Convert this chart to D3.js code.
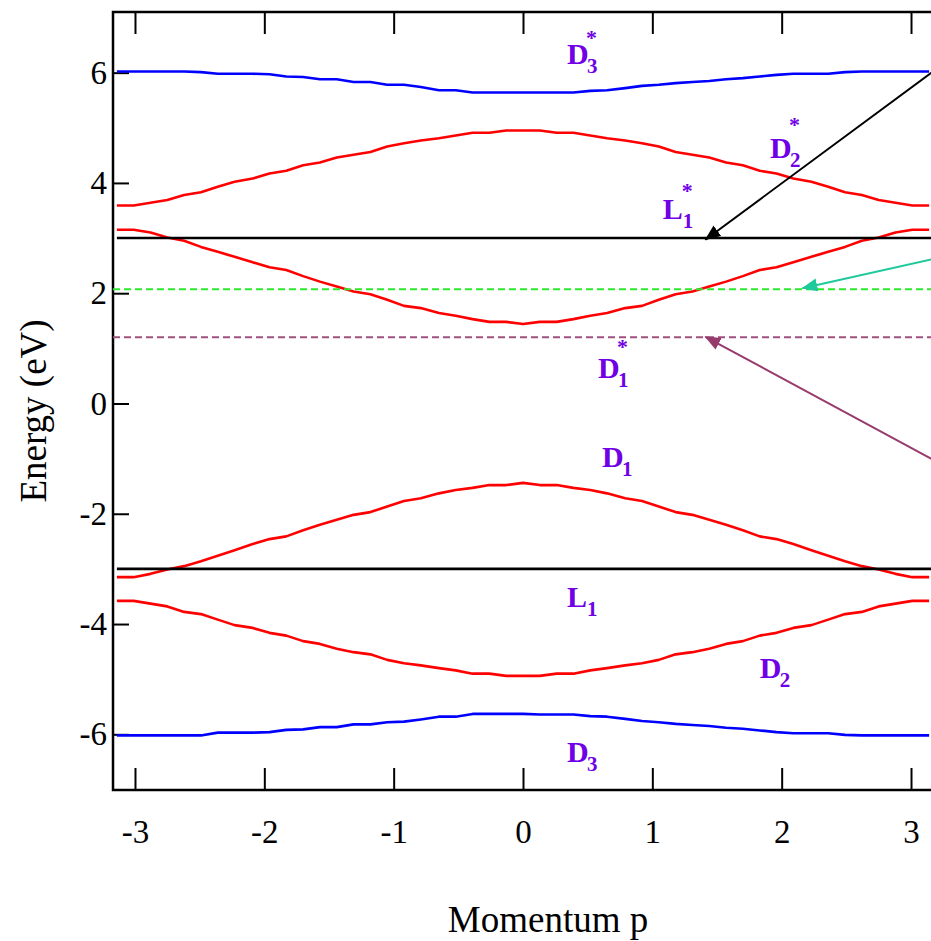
<!DOCTYPE html>
<html>
<head>
<meta charset="utf-8">
<script src="https://cdn.jsdelivr.net/npm/d3@7"></script>
<style>
  body { margin: 0; background: #fff; }
</style>
</head>
<body>
<div id="chart"></div>
<script>
// momentum grid (-pi .. pi)
const momentum = [-3.14, -3.01, -2.88, -2.75, -2.62, -2.49, -2.36, -2.23, -2.09, -1.96, -1.83, -1.70, -1.57, -1.44, -1.31, -1.18, -1.05, -0.92, -0.79, -0.65, -0.52, -0.39, -0.26, -0.13,
  0, 0.13, 0.26, 0.39, 0.52, 0.65, 0.79, 0.92, 1.05, 1.18, 1.31, 1.44, 1.57, 1.70, 1.83, 1.96, 2.09, 2.23, 2.36, 2.49, 2.62, 2.75, 2.88, 3.01, 3.14];

// bands
const bandD3s = [6.02, 6.02, 6.02, 6.02, 6.02, 6.01, 5.98, 5.98, 5.98, 5.97, 5.93, 5.92, 5.88, 5.88, 5.83, 5.83, 5.78, 5.78, 5.74, 5.68, 5.68, 5.64, 5.64, 5.64,
  5.64, 5.64, 5.64, 5.64, 5.67, 5.68, 5.72, 5.76, 5.78, 5.81, 5.83, 5.85, 5.88, 5.90, 5.93, 5.96, 5.98, 5.98, 5.98, 6.01, 6.02, 6.02, 6.02, 6.02, 6.02];
const bandD2s = [3.59, 3.59, 3.64, 3.69, 3.78, 3.83, 3.93, 4.02, 4.08, 4.17, 4.22, 4.32, 4.37, 4.46, 4.51, 4.56, 4.66, 4.72, 4.77, 4.81, 4.86, 4.91, 4.91, 4.95,
  4.95, 4.95, 4.91, 4.91, 4.86, 4.81, 4.77, 4.72, 4.66, 4.56, 4.51, 4.46, 4.37, 4.32, 4.22, 4.17, 4.08, 4.02, 3.93, 3.83, 3.78, 3.69, 3.64, 3.59, 3.59];
const bandD1s = [3.15, 3.15, 3.10, 3.01, 2.95, 2.84, 2.75, 2.66, 2.56, 2.47, 2.42, 2.31, 2.21, 2.12, 2.03, 1.98, 1.88, 1.77, 1.73, 1.64, 1.59, 1.53, 1.48, 1.48,
  1.44, 1.48, 1.48, 1.53, 1.59, 1.64, 1.73, 1.77, 1.88, 1.98, 2.03, 2.12, 2.21, 2.31, 2.42, 2.47, 2.56, 2.66, 2.75, 2.84, 2.95, 3.01, 3.10, 3.15, 3.15];
const bandD1 = [-3.15, -3.15, -3.09, -3.01, -2.95, -2.86, -2.76, -2.66, -2.55, -2.46, -2.41, -2.30, -2.20, -2.11, -2.02, -1.97, -1.87, -1.77, -1.72, -1.63, -1.57, -1.53, -1.48, -1.48,
  -1.44, -1.48, -1.48, -1.53, -1.57, -1.63, -1.72, -1.77, -1.87, -1.97, -2.02, -2.11, -2.20, -2.30, -2.41, -2.46, -2.55, -2.66, -2.76, -2.86, -2.95, -3.01, -3.09, -3.15, -3.15];
const bandD2 = [-3.58, -3.58, -3.63, -3.68, -3.78, -3.82, -3.92, -4.02, -4.07, -4.16, -4.21, -4.31, -4.36, -4.45, -4.51, -4.55, -4.65, -4.71, -4.75, -4.80, -4.84, -4.90, -4.90, -4.94,
  -4.94, -4.94, -4.90, -4.90, -4.84, -4.80, -4.75, -4.71, -4.65, -4.55, -4.51, -4.45, -4.36, -4.31, -4.21, -4.16, -4.07, -4.02, -3.92, -3.82, -3.78, -3.68, -3.63, -3.58, -3.58];
const bandD3 = [-6.02, -6.02, -6.02, -6.02, -6.02, -6.02, -5.97, -5.97, -5.97, -5.96, -5.92, -5.91, -5.87, -5.87, -5.82, -5.82, -5.78, -5.77, -5.73, -5.68, -5.68, -5.63, -5.63, -5.63,
  -5.63, -5.64, -5.64, -5.64, -5.67, -5.68, -5.72, -5.76, -5.78, -5.81, -5.83, -5.85, -5.88, -5.90, -5.93, -5.96, -5.98, -5.98, -5.98, -6.01, -6.02, -6.02, -6.02, -6.02, -6.02];

// horizontal levels
const levelNames = ["L1*", "L1", "green", "purple"];
const levelValues = [3.0, -3.0, 2.07, 1.2];

// arrows: start / end in data units
const arrowStartP = [3.17, 3.17, 3.17];
const arrowStartE = [6.02, 2.62, -1.02];
const arrowEndP = [1.41, 2.16, 1.41];
const arrowEndE = [2.97, 2.09, 1.21];

const xTicks = [-3, -2, -1, 0, 1, 2, 3];
const yTicks = [-6, -4, -2, 0, 2, 4, 6];

const serif = "'Liberation Serif', Tinos, 'Nimbus Roman', FreeSerif, 'DejaVu Serif', 'Times New Roman', Times, serif";

// Chart size
const width = 931;
const height = 941;

const x = d3.scaleLinear().domain([-3.17, 3.17]).range([113, 933]);
const y = d3.scaleLinear().domain([-7.01, 7.10]).range([790, 12]);

const svg = d3.select("#chart").append("svg")
    .attr("width", width)
    .attr("height", height)
    .attr("viewBox", [0, 0, width, height])
    .style("display", "block")
    .attr("font-family", serif);

// arrow heads
const arrowColors = ["#000000", "#1ec99b", "#973a6c"];
svg.append("defs").selectAll("marker")
    .data(arrowColors)
    .join("marker")
    .attr("id", (d, i) => "head" + i)
    .attr("markerUnits", "userSpaceOnUse")
    .attr("viewBox", "0 -7 16 14")
    .attr("refX", 15)
    .attr("refY", 0)
    .attr("markerWidth", 16)
    .attr("markerHeight", 14)
    .attr("orient", "auto")
    .append("path")
    .attr("d", "M0,-6.5L16,0L0,6.5Z")
    .attr("fill", d => d);

// frame
svg.append("rect")
    .attr("x", x.range()[0])
    .attr("y", y.range()[1])
    .attr("width", x.range()[1] - x.range()[0])
    .attr("height", y.range()[0] - y.range()[1])
    .attr("fill", "none")
    .attr("stroke", "#000")
    .attr("stroke-width", 2.5);

// axes (ticks point inward), plain hyphen minus like the original
const fmt = d => String(d);
const xAxis = svg.append("g")
    .attr("transform", `translate(0,${y.range()[0]})`)
    .call(d3.axisBottom(x).tickValues(xTicks).tickSize(-22).tickSizeOuter(0).tickPadding(30).tickFormat(fmt));
const xAxisTop = svg.append("g")
    .attr("transform", `translate(0,${y.range()[1]})`)
    .call(d3.axisTop(x).tickValues(xTicks).tickSize(-22).tickSizeOuter(0).tickFormat(""));
const yAxis = svg.append("g")
    .attr("transform", `translate(${x.range()[0]},0)`)
    .call(d3.axisLeft(y).tickValues(yTicks).tickSize(-16).tickSizeOuter(0).tickPadding(6).tickFormat(fmt));

[xAxis, xAxisTop, yAxis].forEach(a => {
    a.attr("font-family", serif).attr("font-size", 33);
    a.select(".domain").remove();
    a.selectAll(".tick line").attr("stroke", "#000").attr("stroke-width", 2);
    a.selectAll("text").attr("fill", "#000");
});

// axis titles
svg.append("text")
    .attr("x", 548)
    .attr("y", 932)
    .attr("text-anchor", "middle")
    .attr("font-size", 37)
    .text("Momentum p");

svg.append("text")
    .attr("transform", "translate(46,411) rotate(-90)")
    .attr("text-anchor", "middle")
    .attr("font-size", 37)
    .text("Energy (eV)");

// bands
const bands = [
    { name: "D3*", values: bandD3s, color: "#0000ff" },
    { name: "D2*", values: bandD2s, color: "#ff0000" },
    { name: "D1*", values: bandD1s, color: "#ff0000" },
    { name: "D1", values: bandD1, color: "#ff0000" },
    { name: "D2", values: bandD2, color: "#ff0000" },
    { name: "D3", values: bandD3, color: "#0000ff" }
];

const line = d3.line()
    .x((d, i) => x(momentum[i]))
    .y(d => y(d));

svg.append("g")
    .attr("fill", "none")
    .attr("stroke-width", 2.6)
    .attr("stroke-linejoin", "round")
    .selectAll("path")
    .data(bands)
    .join("path")
    .attr("stroke", d => d.color)
    .attr("d", d => line(d.values));

// level lines
const levelStyle = {
    "L1*": { color: "#000", dash: null, w: 2.6, from: -3.14 },
    "L1": { color: "#000", dash: null, w: 2.6, from: -3.14 },
    "green": { color: "#2ee82e", dash: "7,4", w: 2, from: -3.17 },
    "purple": { color: "#a0507f", dash: "7,4", w: 2, from: -3.17 }
};

svg.append("g")
    .selectAll("line")
    .data(levelNames)
    .join("line")
    .attr("x1", d => x(levelStyle[d].from))
    .attr("x2", x.range()[1])
    .attr("y1", (d, i) => y(levelValues[i]))
    .attr("y2", (d, i) => y(levelValues[i]))
    .attr("stroke", d => levelStyle[d].color)
    .attr("stroke-width", d => levelStyle[d].w)
    .attr("stroke-dasharray", d => levelStyle[d].dash);

// arrows
svg.append("g")
    .selectAll("line")
    .data(arrowStartP)
    .join("line")
    .attr("x1", (d, i) => x(arrowStartP[i]))
    .attr("y1", (d, i) => y(arrowStartE[i]))
    .attr("x2", (d, i) => x(arrowEndP[i]))
    .attr("y2", (d, i) => y(arrowEndE[i]))
    .attr("stroke", (d, i) => arrowColors[i])
    .attr("stroke-width", 2)
    .attr("marker-end", (d, i) => `url(#head${i})`);

// band labels: letter, subscript and optional star in one text
const labels = [
    { main: "D", sub: "3", star: true, p: 0.34, e: 6.16, starDy: -19 },
    { main: "D", sub: "2", star: true, p: 1.91, e: 4.45, starDy: -26 },
    { main: "L", sub: "1", star: true, p: 1.08, e: 3.35, starDy: -21 },
    { main: "D", sub: "1", star: true, p: 0.58, e: 0.46, starDy: -24 },
    { main: "D", sub: "1", star: false, p: 0.61, e: -1.15 },
    { main: "L", sub: "1", star: false, p: 0.34, e: -3.69 },
    { main: "D", sub: "2", star: false, p: 1.83, e: -4.98 },
    { main: "D", sub: "3", star: false, p: 0.34, e: -6.50 }
];

const lab = svg.append("g")
    .attr("fill", "#7000e6")
    .attr("font-weight", "bold")
    .selectAll("text")
    .data(labels)
    .join("text")
    .attr("transform", d => `translate(${x(d.p)},${y(d.e)})`);

lab.append("tspan")
    .attr("x", 0).attr("y", 0)
    .attr("font-size", 30)
    .text(d => d.main);
lab.append("tspan")
    .attr("x", 20)
    .attr("y", 9)
    .attr("font-size", 21)
    .text(d => d.sub);
lab.filter(d => d.star).append("tspan")
    .attr("x", 19)
    .attr("y", d => d.starDy)
    .attr("font-size", 22)
    .text("*");
</script>
</body>
</html>
